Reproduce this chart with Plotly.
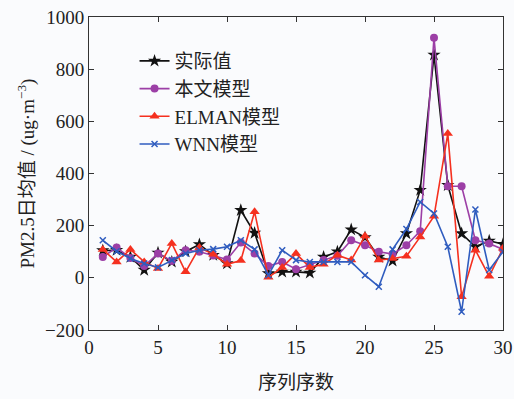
import plotly.graph_objects as go

x = list(range(1, 31))
actual = [105, 106, 80, 30, 96, 61, 101, 128, 87, 55, 259, 172, 17, 23, 23, 19, 80, 100, 185, 155,
          80, 65, 170, 336, 855, 355, 170, 119, 142, 129]
ours = [80, 116, 76, 45, 93, 65, 106, 100, 86, 70, 135, 93, 45, 61, 33, 50, 68, 85, 144, 125,
        100, 91, 125, 179, 920, 351, 351, 144, 132, 109]
elman = [109, 61, 109, 61, 36, 132, 23, 116, 90, 52, 66, 253, 2, 40, 93, 40, 52, 87, 68, 160,
         68, 74, 83, 157, 236, 553, -73, 106, 6, 113]
wnn = [144, 102, 74, 55, 40, 68, 93, 106, 110, 119, 144, 109, 10, 106, 68, 61, 61, 61, 61, 10,
       -34, 109, 187, 291, 247, 119, -130, 262, 30, 100]

names = ["实际值", "本文模型", "ELMAN模型", "WNN模型"]
colors = ["#111111", "#9c3fa6", "#f5301f", "#2f5cbf"]
symbols = ["star", "circle", "triangle-up", "x-thin"]
sizes = [10, 8, 9, 6]
series = [actual, ours, elman, wnn]

xticks = [0, 5, 10, 15, 20, 25, 30]
yticks = [-200, 0, 200, 400, 600, 800, 1000]

fig = go.Figure()
for nm, c, s, sz, ys in zip(names, colors, symbols, sizes, series):
    fig.add_trace(go.Scatter(
        x=x, y=ys, name=nm, mode="lines+markers",
        line=dict(color=c, width=1.6),
        marker=dict(symbol=s, size=sz, color=c,
                    line=dict(color=c, width=1.5 if s == "x-thin" else 0)),
    ))

font_main = "Liberation Serif, Times New Roman, Noto Sans CJK SC, serif"
axis_common = dict(showline=True, linecolor="#333333", linewidth=1, mirror="ticks",
                   ticks="inside", ticklen=5, tickcolor="#333333", showgrid=False,
                   zeroline=False, automargin=False, ticklabeloverflow="allow",
                   tickfont=dict(size=19, color="#222222", family=font_main))

fig.update_layout(
    width=514, height=399,
    margin=dict(l=89, r=11, t=17, b=69),
    paper_bgcolor="#fafbfd", plot_bgcolor="#fafbfd",
    font=dict(family=font_main, color="#222222"),
    showlegend=True,
    legend=dict(x=0.11, y=0.92, xanchor="left", yanchor="top",
                bgcolor="rgba(0,0,0,0)", borderwidth=0,
                font=dict(size=19, family=font_main, color="#222222"),
                tracegroupgap=0, itemwidth=30),
    xaxis=dict(range=[0, 30], tickvals=xticks, ticktext=[str(v) for v in xticks],
               title=dict(text="序列序数", font=dict(size=19, family=font_main), standoff=18),
               **axis_common),
    yaxis=dict(range=[-200, 1000], tickvals=yticks, ticktext=[str(v).replace("-", "−") for v in yticks],
               title=dict(text="PM2.5日均值 / (ug·m<sup>−3</sup>)", font=dict(size=19, family=font_main),
                          standoff=5),
               **axis_common),
)

fig.write_html(
    "out.html",
    config={"displayModeBar": False},
    post_script="document.body.style.margin='0';document.body.style.overflow='hidden';"
                "document.body.style.background='#fafbfd';",
)
